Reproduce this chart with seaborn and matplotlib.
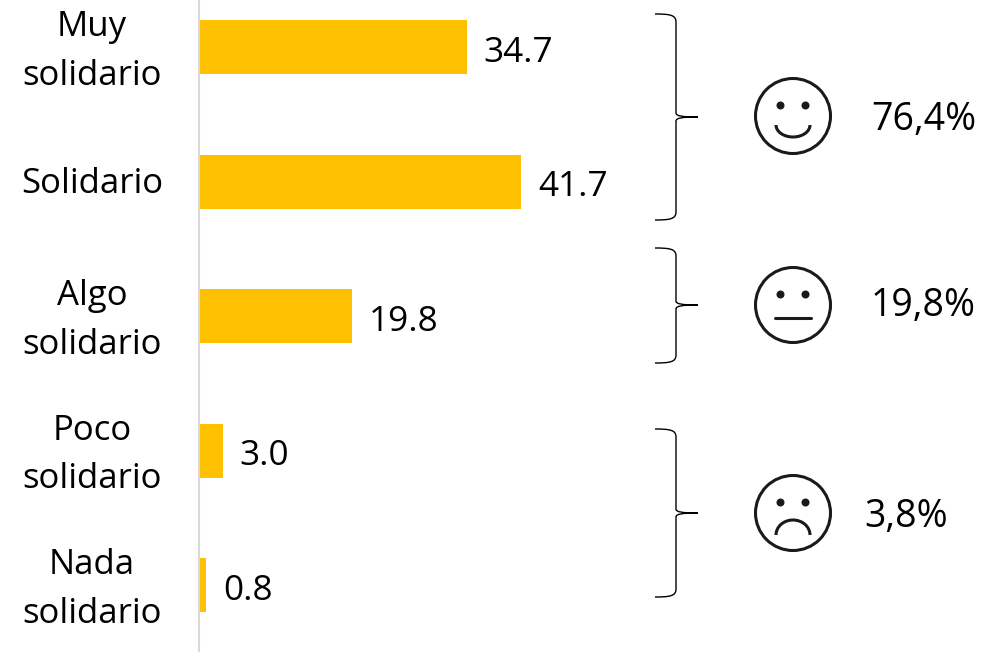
import numpy as np
import pandas as pd
import matplotlib
matplotlib.use('Agg')
import matplotlib.pyplot as plt
from matplotlib.path import Path
from matplotlib.patches import PathPatch, Circle, Arc
from matplotlib.transforms import offset_copy
import seaborn as sns

categories = ['Muy\nsolidario', 'Solidario', 'Algo\nsolidario', 'Poco\nsolidario', 'Nada\nsolidario']
values = [34.7, 41.7, 19.8, 3.0, 0.8]
group_labels = ['76,4%', '19,8%', '3,8%']
moods = ['happy', 'neutral', 'sad']

W, H = 984, 652
df = pd.DataFrame({'cat': categories, 'val': values})

sns.set_theme(style='white')
plt.rcParams['font.family'] = ['Open Sans', 'DejaVu Sans']

fig = plt.figure(figsize=(W/100, H/100), dpi=100)
ax = fig.add_axes([200/W, 0, 1-200/W, 1])
sns.barplot(data=df, y='cat', x='val', color='#ffc000', saturation=1, width=0.4, linewidth=0, ax=ax)
ax.set_xlim(0, 784/7.7)
ax.set_ylim((652-47.3)/134.5, -47.3/134.5)
ax.set_xlabel('')
ax.set_ylabel('')
ax.set_xticks([])
for s in ['top', 'right', 'bottom']:
    ax.spines[s].set_visible(False)
ax.spines['left'].set_color('#d9d9d9')
ax.spines['left'].set_linewidth(1.5)
ax.spines['left'].set_position(('outward', 0.8))

FS = 25
ax.tick_params(axis='y', length=0, pad=107*0.72, labelsize=FS, labelcolor='black')
for t in ax.get_yticklabels():
    t.set_ha('center')
    t.set_linespacing(1.55)
    # nudge up, the two line labels sit lower than the single one
    up = 5 if '\n' in t.get_text() else 1.5
    t.set_transform(offset_copy(t.get_transform(), fig=fig, y=up, units='points'))
labels = ax.bar_label(ax.containers[0], fmt='%.1f', padding=11, fontsize=FS+0.3, color='black')
for t in labels:
    t.xyann = (12, -4)

# overlay in pixel coordinates for the braces and faces
ov = fig.add_axes([0, 0, 1, 1])
ov.set_xlim(0, W)
ov.set_ylim(H, 0)
ov.axis('off')


def brace(top, mid, bottom):
    x0, x1, x2 = 655, 676, 698
    verts = [(x0, top), (x1-6, top), (x1, top+1), (x1, top+8),
             (x1, mid-4), (x1, mid-1), (x1+6, mid), (x2, mid),
             (x1+6, mid), (x1, mid+1), (x1, mid+4),
             (x1, bottom-8), (x1, bottom-1), (x1-6, bottom), (x0, bottom)]
    codes = [Path.MOVETO, Path.CURVE4, Path.CURVE4, Path.CURVE4,
             Path.LINETO, Path.CURVE4, Path.CURVE4, Path.CURVE4,
             Path.CURVE4, Path.CURVE4, Path.CURVE4,
             Path.LINETO, Path.CURVE4, Path.CURVE4, Path.CURVE4]
    ov.add_patch(PathPatch(Path(verts, codes), fc='none', ec='black', lw=1.0))


def face(cy, mood):
    cx = 793
    lw = 2.2
    col = '#1a1a1a'
    ov.add_patch(Circle((cx, cy), 37.5, fc='none', ec=col, lw=lw))
    for dx in (-12.5, 12.5):
        ov.add_patch(Circle((cx+dx, cy-10.5), 4, fc=col, ec='none'))
    if mood == 'happy':
        ov.add_patch(Arc((cx, cy+9), 34, 24, theta1=0, theta2=180, ec=col, lw=lw))
    elif mood == 'neutral':
        ov.plot([cx-18, cx+18], [cy+13, cy+13], color=col, lw=lw)
    else:
        ov.add_patch(Arc((cx, cy+22), 34, 30, theta1=180, theta2=360, ec=col, lw=lw))


brace(14, 117, 220)
brace(248, 305, 363)
brace(429, 513, 597)

face(116, moods[0])
face(305, moods[1])
face(513, moods[2])

GFS = 27
ov.text(871, 120, group_labels[0], fontsize=GFS, va='center', ha='left', color='black')
ov.text(871, 306, group_labels[1], fontsize=GFS, va='center', ha='left', color='black')
ov.text(864, 517, group_labels[2], fontsize=GFS, va='center', ha='left', color='black')

fig.savefig('out.png', dpi=100)
